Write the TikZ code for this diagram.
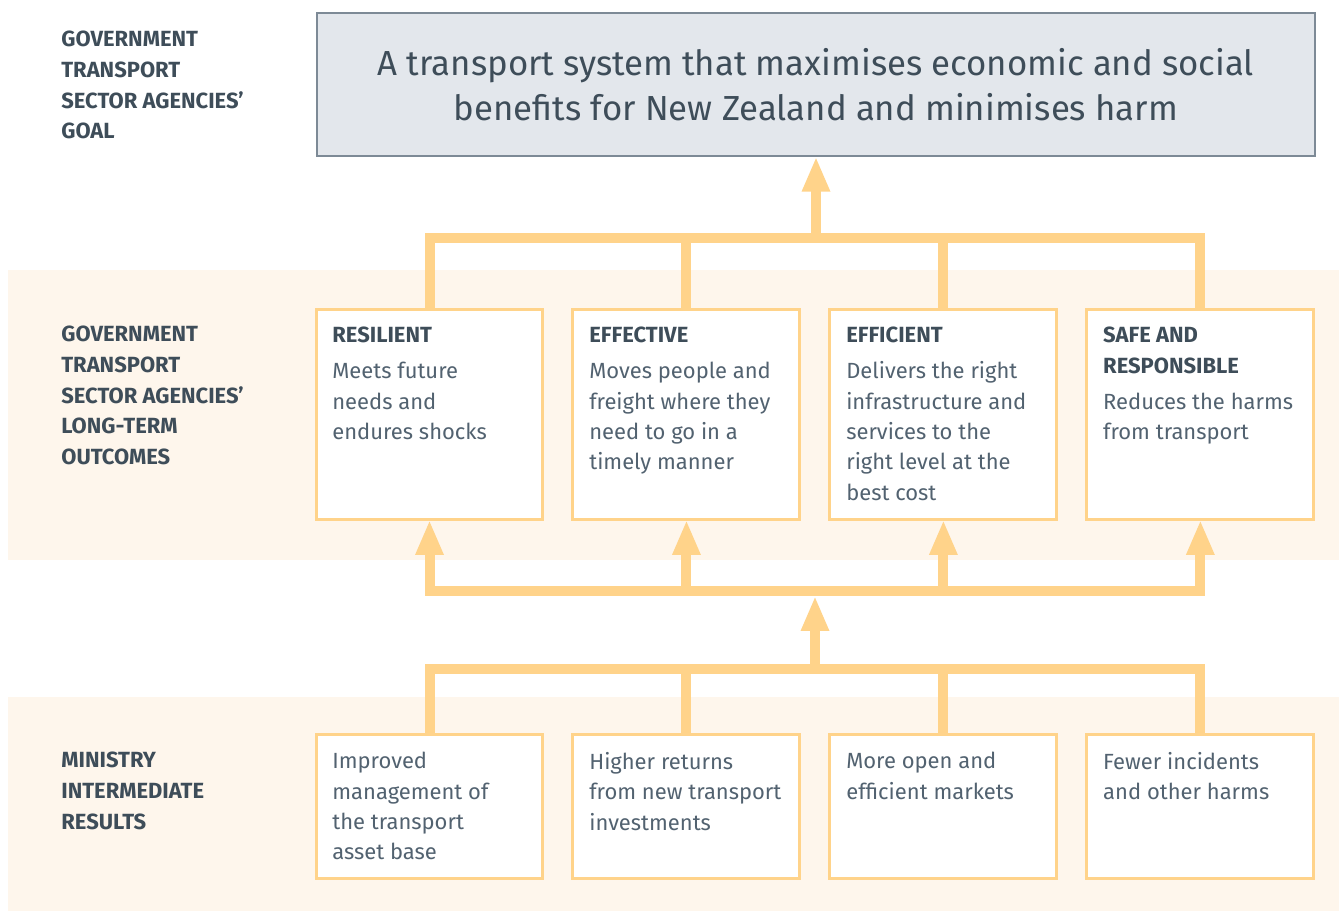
\documentclass[tikz,border=0pt]{standalone}
\usepackage{fontspec}
\setmainfont{Fira Sans}
\usepackage{xcolor}
\usepackage{tikz}
\usetikzlibrary{arrows.meta,positioning}
\definecolor{cream}{HTML}{FEF6EC}
\definecolor{peach}{HTML}{FFD38A}
\definecolor{goalgrey}{HTML}{E3E7EC}
\definecolor{goalline}{HTML}{7D8A96}
\definecolor{slate}{HTML}{3E4D59}
\definecolor{bodytext}{HTML}{526270}
\tikzset{outbox/.style={rectangle,draw=peach,fill=white,line width=1.7pt,outer sep=0pt,minimum width=4.54cm,minimum height=4.22cm,inner sep=0pt}}
\tikzset{resbox/.style={outbox,minimum height=2.88cm}}
\tikzset{pipe/.style={draw=peach,line width=0.2cm,line join=miter}}
\tikzset{lbl/.style={anchor=north west,inner sep=0pt,align=left,font=\bfseries\fontsize{12.5}{17.4}\selectfont,text=slate}}
\tikzset{txt/.style={anchor=north west,inner sep=0pt,align=left,font=\fontsize{12.5}{17.3}\selectfont,text=bodytext}}

\begin{document}
\begin{tikzpicture}[x=0.02cm,y=-0.02cm,>={Triangle[width=0.52cm,length=0.7cm]}]
        \useasboundingbox (0,0) rectangle (1339,911);
        \fill[cream] (8,270) rectangle (1339,560);
        \fill[cream] (8,697) rectangle (1339,911);

        \node[lbl] (goallbl) at (61,31) {GOVERNMENT\\TRANSPORT\\SECTOR AGENCIES’\\GOAL};
        \node[lbl] (outlbl) at (61,326) {GOVERNMENT\\TRANSPORT\\SECTOR AGENCIES’\\LONG-TERM\\OUTCOMES};
        \node[lbl] (reslbl) at (61,752) {MINISTRY\\INTERMEDIATE\\RESULTS};

        \node[draw=goalline,fill=goalgrey,line width=0.8pt,minimum width=19.96cm,minimum height=2.86cm,font=\fontsize{19.8}{25.5}\selectfont,text=slate,align=center] (goal) at (816,84.5) {A transport system that maximises economic and social\\benefits for New Zealand and minimises harm};

        \node[outbox] (o1) at (429.5,414.5) {};
        \node[outbox,right=0.6cm of o1] (o2) {};
        \node[outbox,right=0.6cm of o2] (o3) {};
        \node[outbox,right=0.6cm of o3] (o4) {};

        \node[resbox,below=4.3cm of o1.south,anchor=north] (r1) {};
        \node[resbox,right=0.6cm of r1] (r2) {};
        \node[resbox,right=0.6cm of r2] (r3) {};
        \node[resbox,right=0.6cm of r3] (r4) {};

        \node[txt] (o1t) at ([shift={(16,18)}]o1.north west) {\textcolor{slate}{\bfseries RESILIENT}\\[3pt]Meets future\\needs and\\endures shocks};
        \node[txt] (o2t) at ([shift={(16,18)}]o2.north west) {\textcolor{slate}{\bfseries EFFECTIVE}\\[3pt]Moves people and\\freight where they\\need to go in a\\timely manner};
        \node[txt] (o3t) at ([shift={(16,18)}]o3.north west) {\textcolor{slate}{\bfseries EFFICIENT}\\[3pt]Delivers the right\\infrastructure and\\services to the\\right level at the\\best cost};
        \node[txt] (o4t) at ([shift={(16,18)}]o4.north west) {\textcolor{slate}{\bfseries SAFE AND}\\\textcolor{slate}{\bfseries RESPONSIBLE}\\[3pt]Reduces the harms\\from transport};

        \node[txt] (r1t) at ([shift={(16,17)}]r1.north west) {Improved\\management of\\the transport\\asset base};
        \node[txt] (r2t) at ([shift={(16,17)}]r2.north west) {Higher returns\\from new transport\\investments};
        \node[txt] (r3t) at ([shift={(16,17)}]r3.north west) {More open and\\efficient markets};
        \node[txt] (r4t) at ([shift={(16,17)}]r4.north west) {Fewer incidents\\and other harms};

        % outcomes up to the goal
        \coordinate (topbar) at (815,238.5);
        \draw[pipe] (o1.north) -- (o1.north |- topbar) -- (o4.north |- topbar) -- (o4.north);
        \draw[pipe] (o2.north) -- (o2.north |- topbar);
        \draw[pipe] (o3.north) -- (o3.north |- topbar);
        \draw[pipe,->] (goal.south |- topbar) -- (goal.south);

        % bar feeding the outcomes
        \coordinate (midbar) at (815,591);
        \draw[pipe,<->] (o1.south) -- (o1.south |- midbar) -- (o4.south |- midbar) -- (o4.south);
        \draw[pipe,->] (o2.south |- midbar) -- (o2.south);
        \draw[pipe,->] (o3.south |- midbar) -- (o3.south);

        % results up to the bar
        \coordinate (lowbar) at (815,669.5);
        \draw[pipe] (r1.north) -- (r1.north |- lowbar) -- (r4.north |- lowbar) -- (r4.north);
        \draw[pipe] (r2.north) -- (r2.north |- lowbar);
        \draw[pipe] (r3.north) -- (r3.north |- lowbar);
        \draw[pipe,->] (lowbar) -- ([yshift=-0.1cm]midbar);
    \end{tikzpicture}
\end{document}
